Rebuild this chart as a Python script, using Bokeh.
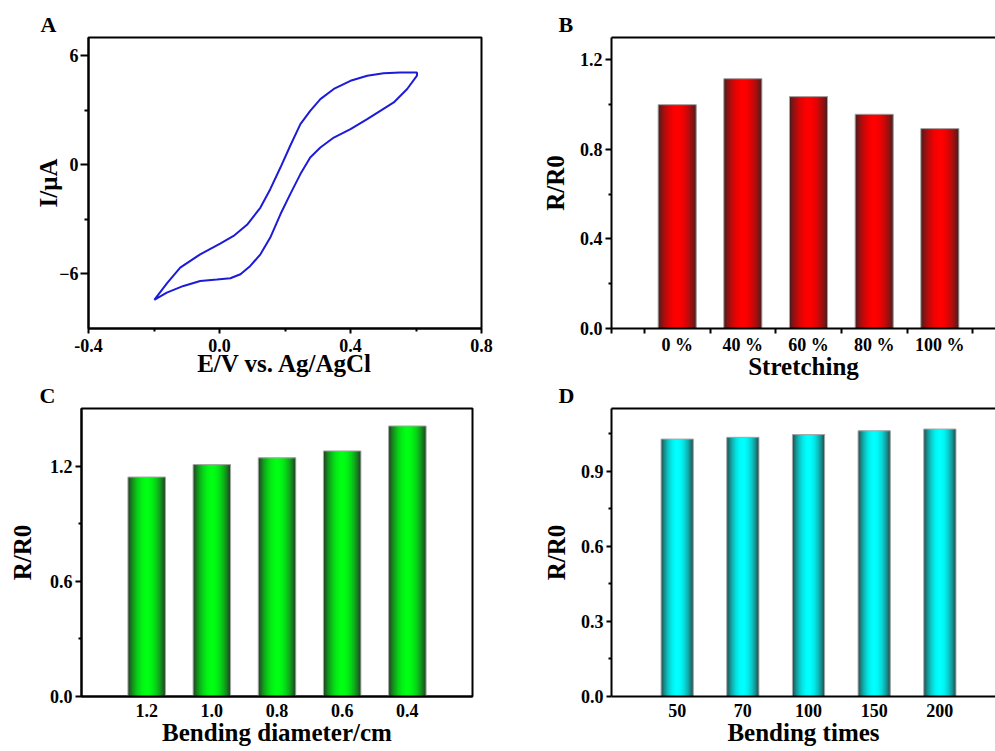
import math
from bokeh.plotting import figure
from bokeh.models import (Range1d, FixedTicker, PrintfTickFormatter, LinearAxis,
                          ColumnDataSource)
from bokeh.core.properties import value
from bokeh.layouts import column, row
from bokeh.embed import file_html
from bokeh.resources import INLINE

# ---------------- data ----------------
# Panel A: cyclic voltammogram (forward branch then reverse branch)
cv_fwd_E = [-0.199, -0.16, -0.12, -0.059, 0.002, 0.043, 0.084, 0.125, 0.155, 0.186,
            0.216, 0.247, 0.277, 0.308, 0.349, 0.400, 0.451, 0.501, 0.552, 0.603]
cv_fwd_I = [-7.43, -6.50, -5.65, -4.92, -4.33, -3.91, -3.30, -2.35, -1.34, -0.15,
            1.05, 2.24, 2.97, 3.61, 4.17, 4.62, 4.90, 5.03, 5.08, 5.08]
cv_rev_E = [0.603, 0.573, 0.532, 0.491, 0.451, 0.400, 0.349, 0.308, 0.277, 0.247, 0.216,
            0.186, 0.155, 0.125, 0.094, 0.064, 0.033, -0.008, -0.059, -0.110, -0.161, -0.199]
cv_rev_I = [4.90, 4.17, 3.43, 2.97, 2.51, 1.96, 1.50, 0.95, 0.40, -0.51, -1.61,
            -2.72, -4.00, -4.92, -5.56, -6.02, -6.24, -6.31, -6.39, -6.66, -7.03, -7.43]

# Panel B: stretching
stretch_labels = ["0 %", "40 %", "60 %", "80 %", "100 %"]
stretch_values = [1.00, 1.116, 1.036, 0.957, 0.893]

# Panel C: bending diameter
diam_labels = ["1.2", "1.0", "0.8", "0.6", "0.4"]
diam_values = [1.143, 1.208, 1.243, 1.279, 1.409]

# Panel D: bending times
times_labels = ["50", "70", "100", "150", "200"]
times_values = [1.028, 1.035, 1.046, 1.061, 1.068]

panel_letters_top = ["A", "B"]
panel_letters_bottom = ["C", "D"]

FONT = "Liberation Serif"
common = dict(output_backend="svg", toolbar_location=None, tools="")


def style_axes(p):
    p.xgrid.visible = False
    p.ygrid.visible = False
    p.background_fill_color = "white"
    p.border_fill_color = "white"
    for ax in [p.below[0], p.left[0]]:
        ax.axis_line_width = 2
        ax.axis_line_color = "black"
        ax.major_tick_in = 0
        ax.minor_tick_in = 0
        ax.major_tick_line_width = 2
        ax.minor_tick_line_width = 2
        ax.major_tick_line_color = "black"
        ax.minor_tick_line_color = "black"
        ax.major_label_text_font = FONT
        ax.major_label_text_font_style = "bold"
        ax.major_label_text_font_size = "18px"
        ax.major_label_text_color = "black"
        ax.axis_label_text_font = FONT
        ax.axis_label_text_font_style = "bold"
        ax.axis_label_text_font_size = "25px"
        ax.axis_label_text_color = "black"
    p.left[0].major_label_orientation = "horizontal"


def set_outline(p, full):
    if full:
        p.outline_line_color = "black"
        p.outline_line_width = 2
    else:
        p.outline_line_color = None
        top = LinearAxis(ticker=FixedTicker(ticks=[]), axis_line_width=2,
                         axis_line_color="black", major_tick_out=0, major_tick_in=0,
                         minor_tick_out=0, minor_tick_in=0, major_label_standoff=0,
                         axis_label_standoff=0, major_label_text_font_size="0px")
        p.add_layout(top, "above")


def hex_mix(edge, center, f):
    return "#%02x%02x%02x" % tuple(int(round(e + (c - e) * f)) for e, c in zip(edge, center))


def gradient_bars(p, values, width, edge, center, nstrip=32):
    xs, ws, tops, cols = [], [], [], []
    sw = width / nstrip
    for i, v in enumerate(values):
        c = i + 1
        for k in range(nstrip):
            t = (k + 0.5) / nstrip
            f = math.sin(math.pi * t) ** 0.8
            left = c - width / 2 + sw * k
            right = min(left + 2.2 * sw, c + width / 2)
            xs.append((left + right) / 2)
            ws.append(right - left)
            tops.append(v)
            cols.append(hex_mix(edge, center, f))
    src = ColumnDataSource(dict(x=xs, w=ws, top=tops, color=cols))
    p.vbar(x="x", top="top", width="w", bottom=0, fill_color="color",
           line_color=None, source=src)
    p.vbar(x=[i + 1 for i in range(len(values))], top=values, width=width, bottom=0,
           fill_color=None, line_color="#a8a8a8", line_width=1)


def cat_axis(ax, labels, minor):
    ax.ticker = FixedTicker(ticks=[i + 1 for i in range(len(labels))], minor_ticks=minor)
    ax.major_label_overrides = {i + 1: lab for i, lab in enumerate(labels)}
    ax.major_tick_out = 0
    ax.minor_tick_out = 5 if minor else 0


def letter_strip(h, letters, xs, ypos):
    s = figure(width=995, height=h, x_range=Range1d(0, 995), y_range=Range1d(0, h),
               min_border=0, title=None, x_axis_type=None, y_axis_type=None, **common)
    s.outline_line_color = None
    s.background_fill_color = "white"
    s.border_fill_color = "white"
    s.grid.visible = False
    s.text(x=xs, y=[ypos] * len(letters), text=letters,
           text_font=value(FONT), text_font_style="bold", text_font_size="22px",
           text_align="left", text_baseline="alphabetic", text_color="black")
    return s


# layout heights: letter strip / row 1 / letter strip / row 2
S1, R1, S2 = 36, 346, 25
R2 = 751 - S1 - R1 - S2

strip_top = letter_strip(S1, panel_letters_top, [40, 558], 12.5)
strip_mid = letter_strip(S2, panel_letters_bottom, [39, 558], 12.5)

# ---------------- Panel A ----------------
pA = figure(width=500, height=R1, x_range=Range1d(-0.4, 0.8), y_range=Range1d(-9, 7),
            min_border_left=88, min_border_right=19, min_border_top=1, min_border_bottom=54,
            title=None, **common)
style_axes(pA)
set_outline(pA, True)
pA.line(cv_fwd_E + cv_rev_E, cv_fwd_I + cv_rev_I, line_color="#1c1cd8", line_width=2)
xa, ya = pA.below[0], pA.left[0]
xa.ticker = FixedTicker(ticks=[-0.4, 0.0, 0.4, 0.8], minor_ticks=[-0.2, 0.2, 0.6])
xa.formatter = PrintfTickFormatter(format="%.1f")
xa.major_tick_out = 5
xa.minor_tick_out = 3
xa.major_label_standoff = 5
xa.axis_label_standoff = -5
xa.axis_label = "E/V vs. Ag/AgCl"
ya.ticker = FixedTicker(ticks=[-6, 0, 6], minor_ticks=[-3, 3])
ya.major_tick_out = 8
ya.minor_tick_out = 4
ya.major_label_standoff = 2
ya.axis_label_standoff = -6
ya.axis_label = "I/μA"

# ---------------- Panel B ----------------
pB = figure(width=495, height=R1, x_range=Range1d(0, 384 / 65.67), y_range=Range1d(0, 1.3),
            min_border_left=111, min_border_right=0, min_border_top=1, min_border_bottom=54,
            title=None, **common)
style_axes(pB)
set_outline(pB, False)
gradient_bars(pB, stretch_values, 0.58, (58, 32, 32), (255, 0, 0))
xb, yb = pB.below[0], pB.left[0]
cat_axis(xb, stretch_labels, [0, 0.5, 1.5, 2.5, 3.5, 4.5, 5.5])
xb.major_label_standoff = 1
xb.axis_label_standoff = -5
xb.axis_label = "Stretching"
yb.ticker = FixedTicker(ticks=[0, 0.4, 0.8, 1.2], minor_ticks=[0.2, 0.6, 1.0])
yb.formatter = PrintfTickFormatter(format="%.1f")
yb.major_tick_out = 6
yb.minor_tick_out = 3
yb.major_label_standoff = 3
yb.axis_label_standoff = 8
yb.axis_label = "R/R0"

# ---------------- Panel C ----------------
pC = figure(width=500, height=R2, x_range=Range1d(0, 6), y_range=Range1d(0, 1.5),
            min_border_left=81, min_border_right=28, min_border_top=1, min_border_bottom=55,
            title=None, **common)
style_axes(pC)
set_outline(pC, True)
gradient_bars(pC, diam_values, 0.575, (36, 50, 36), (0, 255, 20))
xc, yc = pC.below[0], pC.left[0]
cat_axis(xc, diam_labels, [])
xc.major_label_standoff = 7
xc.axis_label_standoff = -1
xc.axis_label = "Bending diameter/cm"
yc.ticker = FixedTicker(ticks=[0, 0.6, 1.2], minor_ticks=[0.3, 0.9])
yc.formatter = PrintfTickFormatter(format="%.1f")
yc.major_tick_out = 6
yc.minor_tick_out = 3
yc.major_label_standoff = 3
yc.axis_label_standoff = 11
yc.axis_label = "R/R0"

# ---------------- Panel D ----------------
pD = figure(width=495, height=R2, x_range=Range1d(0, 384 / 65.67), y_range=Range1d(0, 1.15),
            min_border_left=111, min_border_right=0, min_border_top=1, min_border_bottom=55,
            title=None, **common)
style_axes(pD)
set_outline(pD, False)
gradient_bars(pD, times_values, 0.49, (40, 62, 62), (0, 255, 255))
xd, yd = pD.below[0], pD.left[0]
cat_axis(xd, times_labels, [])
xd.major_label_standoff = 7
xd.axis_label_standoff = -1
xd.axis_label = "Bending times"
yd.ticker = FixedTicker(ticks=[0, 0.3, 0.6, 0.9], minor_ticks=[0.15, 0.45, 0.75, 1.05])
yd.formatter = PrintfTickFormatter(format="%.1f")
yd.major_tick_out = 5
yd.minor_tick_out = 3
yd.major_label_standoff = 3
yd.axis_label_standoff = 8
yd.axis_label = "R/R0"

layout = column(strip_top, row(pA, pB), strip_mid, row(pC, pD))
open("out.html", "w").write(file_html(layout, INLINE))
